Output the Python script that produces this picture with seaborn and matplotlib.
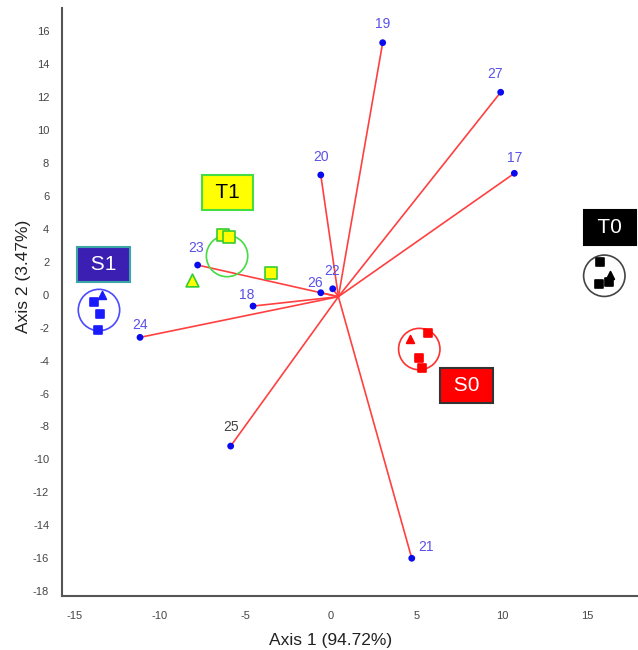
"""
PCA biplot of scores (S0, S1, T0, T1) and loadings (17-27)
"""
import numpy as np
import pandas as pd
import matplotlib.pyplot as plt
import seaborn as sns

# loading vectors
var_ids = ['17', '18', '19', '20', '21', '22', '23', '24', '25', '26', '27']
var_x = [10.72, -4.56, 3.02, -0.60, 4.72, 0.10, -7.80, -11.17, -5.87, -0.60, 9.92]
var_y = [7.37, -0.69, 15.30, 7.27, -16.00, 0.36, 1.80, -2.59, -9.19, 0.12, 12.29]
origin_x, origin_y = 0.43, -0.12

# replicate scores per group
rep_group = ['S0'] * 4 + ['S1'] * 4 + ['T0'] * 4 + ['T1'] * 4
rep_shape = ['tri', 'sq', 'sq', 'sq'] * 4
rep_x = [4.62, 5.65, 5.15, 5.30,
         -13.41, -13.86, -13.51, -13.64,
         16.32, 15.73, 16.27, 15.69,
         -8.15, -3.49, -6.30, -5.96]
rep_y = [-2.71, -2.31, -3.86, -4.43,
         -0.02, -0.43, -1.17, -2.14,
         1.20, 2.00, 0.77, 0.65,
         0.89, 1.34, 3.62, 3.52]

# group centroids (rings)
group_names = ['S0', 'S1', 'T0', 'T1']
ring_x = [5.16, -13.57, 15.98, -6.08]
ring_y = [-3.30, -0.93, 1.15, 2.35]

x_ticks = [-15, -10, -5, 0, 5, 10, 15]
y_ticks = list(range(-18, 17, 2))

# layout / style
box_pos = {'S0': (7.94, -5.51), 'S1': (-13.28, 1.82),
           'T0': (16.30, 4.07), 'T1': (-6.05, 6.21)}
label_off = {'17': (0, 10.8), '18': (-4.3, 7.9), '19': (0, 13.7),
             '20': (0, 13), '21': (10, 7.9), '22': (-0.7, 13),
             '23': (-1.4, 12.2), '24': (0, 8.6), '25': (0, 13.7),
             '26': (-4.3, 7.2), '27': (-4.3, 13)}
styles = {
    'S0': dict(face='#ff0000', edge='#ff0000', ring='#ff3030',
               box='#ff0000', box_edge='#333333', text='white', size=26),
    'S1': dict(face='#1a1aff', edge='#1a1aff', ring='#4a4aff',
               box='#3b1fb3', box_edge='#3aa6a6', text='white', size=26),
    'T0': dict(face='#000000', edge='#000000', ring='#444444',
               box='#000000', box_edge='#000000', text='white', size=26),
    'T1': dict(face='#ffff00', edge='#33cc33', ring='#44dd44',
               box='#ffff00', box_edge='#44dd44', text='black', size=70),
}

sns.set_style('white')
plt.rcParams['font.family'] = ['Liberation Sans', 'DejaVu Sans']
plt.rcParams['axes.unicode_minus'] = False

fig = plt.figure(figsize=(6.38, 6.5), dpi=100)
ax = fig.add_axes([0.0967, 0.0831, 0.9033, 0.9042])

loadings = pd.DataFrame({'id': var_ids, 'x': var_x, 'y': var_y})
reps = pd.DataFrame({'group': rep_group, 'shape': rep_shape, 'x': rep_x, 'y': rep_y})

# loading lines from the origin
for _, r in loadings.iterrows():
    ax.plot([origin_x, r.x], [origin_y, r.y], color='#ff4040', lw=1.2, zorder=1)

sns.scatterplot(data=loadings, x='x', y='y', color='#0a0aee', s=24,
                edgecolor='none', ax=ax, zorder=3)
for _, r in loadings.iterrows():
    col = '#444444' if r.id == '25' else '#5a50e6'
    ax.annotate(r.id, (r.x, r.y), xytext=label_off[r.id], textcoords='offset points',
                ha='center', va='center', fontsize=10, color=col)

# group rings, replicates and labels
for g, cx, cy in zip(group_names, ring_x, ring_y):
    st = styles[g]
    sns.scatterplot(x=[cx], y=[cy], marker='o', s=888, facecolor='none',
                    edgecolor=st['ring'], linewidth=1.2, ax=ax, zorder=2)
    sub = reps[reps.group == g]
    for shape, mk in [('sq', 's'), ('tri', '^')]:
        part = sub[sub['shape'] == shape]
        sns.scatterplot(data=part, x='x', y='y', marker=mk, s=st['size'] * (1.2 if mk == '^' else 1),
                        color=st['face'], edgecolor=st['edge'], linewidth=1.2,
                        ax=ax, zorder=4)
    bx, by = box_pos[g]
    ax.text(bx, by, ' ' + g + ' ', ha='center', va='center', fontsize=15,
            color=st['text'], zorder=5,
            bbox=dict(boxstyle='square,pad=0.38', fc=st['box'], ec=st['box_edge'], lw=1.5))

ax.set_xlim(-15.75, 17.95)
ax.set_ylim(-18.29, 17.39)
ax.set_xticks(x_ticks)
ax.set_yticks(y_ticks)
ax.tick_params(length=0, labelsize=8, colors='#444444')
ax.tick_params(axis='y', pad=9)
ax.tick_params(axis='x', pad=11)

sns.despine(ax=ax)
for side in ['left', 'bottom']:
    ax.spines[side].set_color('#555555')
    ax.spines[side].set_linewidth(1.5)

ax.set_xlabel('Axis 1 (94.72%)', fontsize=12.5, color='#222222')
ax.set_ylabel('Axis 2 (3.47%)', fontsize=12.5, color='#222222')
ax.xaxis.set_label_coords(0.467, -0.075)
ax.xaxis.label.set_va('center')
ax.yaxis.set_label_coords(-0.066, 0.543)
ax.yaxis.label.set_va('center')

fig.savefig('out.png', dpi=100)
